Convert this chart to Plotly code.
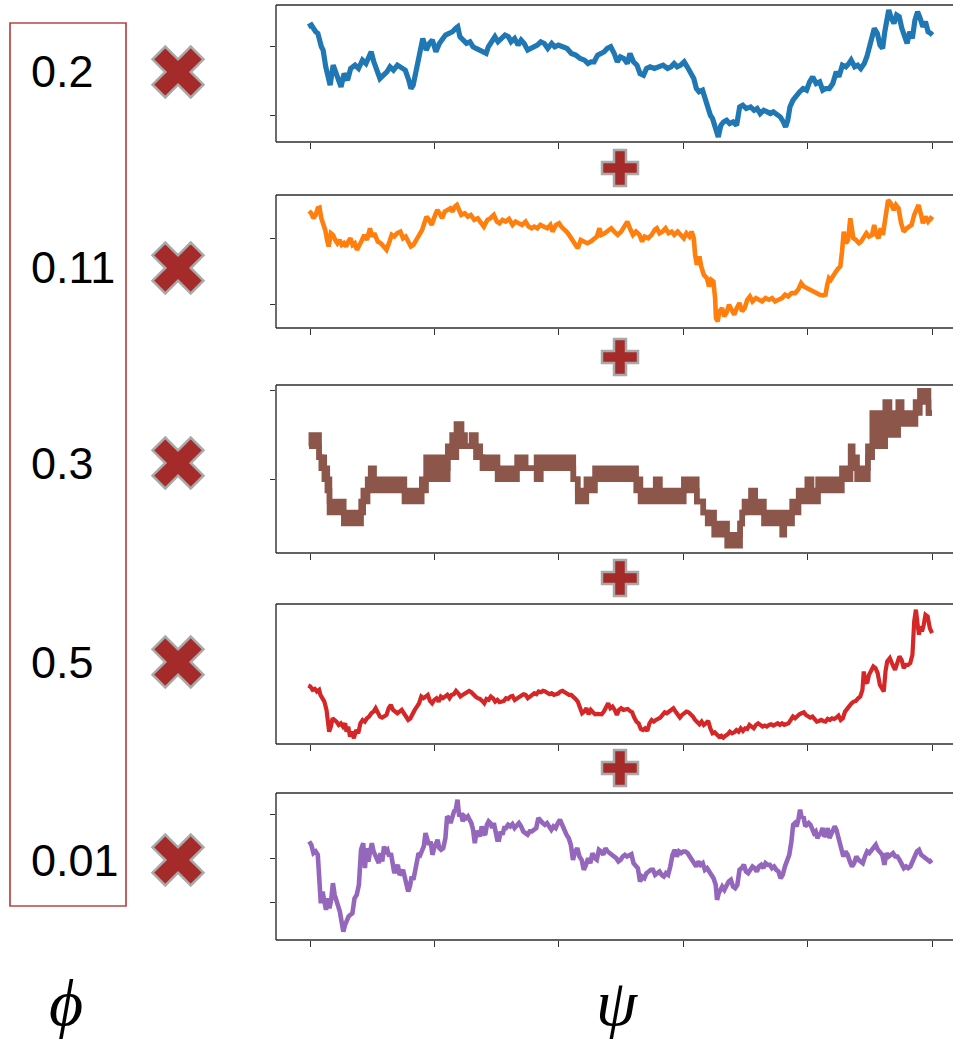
import plotly.graph_objects as go

W, H = 953, 1039

# ---------------------------------------------------------------- data
PHI_LABELS = ["0.2", "0.11", "0.3", "0.5", "0.01"]

# (step, value) samples of each psi series
BLUE = [(88,345),(95,350),(105,330),(110,325),(118,285),(122,275),(128,225),(135,185),(138,170),(145,230),
        (150,210),(158,190),(163,165),(170,205),(178,185),(185,220),(195,230),(203,220),(212,245),(220,235),
        (228,260),(232,270),(238,240),(245,215),(252,190),(260,200),(268,210),(275,225),(283,215),(292,230),
        (300,225),(310,215),(318,185),(323,160),(328,170),(333,205),(340,240),(345,295),(350,310),(358,275),
        (365,295),(372,305),(380,270),(388,295),(395,305),(402,320),(410,325),(418,330),(425,340),(430,345),
        (435,315),(442,305),(450,295),(458,300),(465,285),(472,280),(480,275),(488,270),(495,265),(500,285),
        (508,305),(515,315),(522,300),(530,310),(538,320),(546,315),(552,300),(560,310),(568,290),(575,305),
        (582,295),(590,275),(598,280),(605,285),(612,290),(620,300),(628,295),(636,280),(645,295),(652,285),
        (660,290),(670,285),(680,280),(690,265),(700,260),(710,250),(720,245),(728,235),(735,240),(742,240),
        (750,260),(758,265),(765,270),(772,280),(780,285),(788,265),(795,240),(802,255),(810,250),(818,235),
        (824,265),(832,240),(840,230),(847,205),(855,200),(862,220),(870,225),(880,220),(890,225),(900,230),
        (910,220),(918,225),(925,235),(932,225),(940,230),(948,240),(955,225),(962,210),(970,190),(976,160),
        (982,150),(990,155),(996,125),(1003,105),(1008,80),(1013,70),(1018,50),(1022,25),(1026,15),(1032,50),
        (1038,60),(1045,65),(1052,55),(1060,60),(1068,50),(1075,105),(1082,110),(1090,100),(1100,105),(1108,95),
        (1115,100),(1122,85),(1130,95),(1138,90),(1145,85),(1152,90),(1160,80),(1168,75),(1175,60),(1180,45),
        (1185,65),(1190,105),(1197,125),(1205,140),(1212,150),(1220,160),(1228,155),(1235,180),(1242,195),(1250,175),
        (1258,180),(1265,155),(1272,160),(1280,160),(1288,175),(1296,210),(1302,195),(1310,230),(1318,225),(1325,235),
        (1330,245),(1338,225),(1345,230),(1352,220),(1360,235),(1366,255),(1372,295),(1378,315),(1383,340),(1390,325),
        (1396,290),(1402,280),(1407,330),(1412,360),(1416,395),(1422,370),(1428,355),(1434,380),(1440,375),(1446,340),
        (1452,315),(1458,295),(1464,330),(1470,310),(1476,365),(1482,390),(1488,370),(1494,345),(1500,360),(1506,330),
        (1512,325),(1516,320)]

ORANGE = [(80,352),(85,345),(90,330),(95,340),(100,360),(104,362),(108,330),(112,315),(117,295),(122,260),
          (125,245),(130,285),(135,280),(140,265),(145,255),(150,265),(155,250),(160,255),(165,245),(170,260),
          (175,270),(180,250),(185,255),(190,235),(195,245),(200,260),(207,280),(213,265),(220,300),(225,275),
          (230,285),(238,260),(245,255),(252,245),(258,235),(265,260),(270,280),(276,275),(282,285),(290,290),
          (296,270),(302,275),(308,260),(314,245),(320,250),(326,265),(332,280),(340,295),(345,315),(350,335),
          (356,325),(362,310),(370,340),(375,355),(380,345),(386,330),(392,350),(398,355),(405,360),(410,350),
          (415,365),(420,370),(425,355),(430,340),(438,345),(445,335),(452,340),(460,325),(468,330),(475,320),
          (482,305),(490,325),(497,330),(505,340),(512,320),(518,315),(525,325),(532,320),(540,328),(548,310),
          (555,320),(562,315),(570,310),(578,320),(585,305),(592,300),(598,305),(605,300),(612,310),(620,305),
          (628,300),(635,310),(640,290),(648,310),(655,315),(660,305),(665,300),(672,290),(678,280),(685,265),
          (692,255),(698,240),(705,265),(712,260),(720,255),(728,260),(735,270),(742,275),(748,300),(752,280),
          (760,285),(768,295),(775,300),(782,290),(790,280),(798,290),(805,305),(812,320),(818,300),(825,280),
          (832,290),(840,280),(846,260),(852,275),(860,270),(868,280),(875,295),(880,300),(886,285),(893,290),
          (900,300),(907,285),(914,290),(920,280),(928,290),(935,280),(942,270),(948,285),(955,275),(960,290),
          (965,270),(968,220),(972,190),(978,215),(982,185),(988,160),(995,150),(1000,125),(1005,145),(1010,140),
          (1014,90),(1016,30),(1020,20),(1024,50),(1030,60),(1035,35),(1040,45),(1046,70),(1052,55),(1058,40),
          (1064,60),(1070,75),(1076,50),(1082,60),(1088,85),(1094,95),(1100,80),(1108,90),(1115,85),(1122,80),
          (1130,90),(1138,85),(1145,90),(1152,80),(1160,85),(1168,90),(1175,100),(1182,95),(1190,105),(1198,105),
          (1205,115),(1212,135),(1218,125),(1225,120),(1232,115),(1240,110),(1248,105),(1255,100),(1262,98),(1268,100),
          (1272,130),(1276,150),(1280,145),(1286,160),(1292,170),(1298,180),(1302,185),(1306,230),(1310,290),(1315,255),
          (1320,265),(1325,330),(1328,300),(1332,270),(1338,265),(1345,255),(1350,260),(1356,270),(1362,285),(1368,275),
          (1375,280),(1380,310),(1385,280),(1390,270),(1395,300),(1400,280),(1404,320),(1408,370),(1412,385),(1418,375),
          (1425,355),(1430,370),(1436,360),(1442,315),(1448,290),(1455,300),(1460,305),(1466,310),(1472,340),(1478,355),
          (1482,370),(1488,340),(1492,315),(1498,335),(1504,320),(1510,330),(1515,325)]

# brown series is quantised: runs of (start step, upper level, lower level)
BROWN_RUNS = [(80,9,9),(85,10,9),(103,8,8),(108,8,7),(115,7,6),(122,6,5),(127,4,3),(132,4,3),(145,4,3),(160,3,2),
              (200,4,3),(205,5,4),(215,6,5),(222,7,5),(230,6,5),(240,6,5),(300,5,4),(340,6,5),(350,8,6),(370,7,6),
              (376,8,6),(390,7,6),(400,9,8),(410,10,8),(420,11,9),(432,10,9),(440,9,9),(455,10,9),(465,9,8),(475,8,8),
              (480,8,7),(515,7,6),(560,8,7),(580,7,7),(605,8,6),(615,8,7),(690,6,6),(700,5,4),(720,6,5),(740,7,6),
              (835,6,5),(845,5,4),(880,6,5),(890,5,4),(945,6,5),(975,4,4),(990,3,3),(1000,3,2),(1015,2,1),(1045,1,0),
              (1075,2,2),(1080,3,3),(1085,4,3),(1100,5,4),(1110,4,3),(1130,3,2),(1172,3,1),(1177,3,2),(1195,4,3),(1210,5,4),
              (1230,6,5),(1240,5,4),(1255,6,5),(1265,6,5),(1310,7,6),(1330,9,7),(1335,8,7),(1345,7,6),(1360,7,6),(1370,9,8),
              (1380,12,9),(1398,10,9),(1410,13,10),(1420,12,11),(1430,12,10),(1440,13,12),(1448,12,11),(1480,13,12),(1490,14,13),(1510,12,12)]
BROWN_END = 1518

RED = [(80,175),(85,172),(90,162),(95,165),(100,157),(105,162),(108,147),(112,137),(117,127),(122,102),
       (125,67),(128,37),(132,52),(136,77),(140,72),(145,67),(150,57),(155,62),(160,52),(165,62),
       (168,37),(172,52),(176,22),(180,37),(185,17),(190,42),(195,32),(200,62),(205,72),(210,67),
       (215,77),(220,82),(225,92),(230,97),(235,107),(240,92),(245,82),(250,79),(255,82),(260,87),
       (265,107),(270,117),(275,102),(280,97),(285,92),(290,97),(295,102),(300,92),(305,82),(310,72),
       (315,77),(320,92),(325,102),(330,112),(335,122),(340,142),(345,137),(350,142),(355,147),(360,129),
       (365,122),(370,132),(375,137),(380,127),(385,142),(390,137),(395,144),(400,147),(405,137),(410,147),
       (415,149),(420,159),(425,152),(430,142),(435,147),(440,152),(445,157),(450,159),(455,155),(460,147),
       (465,142),(470,137),(475,135),(480,129),(485,122),(490,135),(495,132),(500,142),(505,137),(510,127),
       (515,132),(520,125),(525,127),(530,129),(535,137),(540,135),(545,142),(550,144),(555,132),(560,137),
       (565,142),(570,147),(575,149),(580,147),(585,137),(590,142),(595,147),(600,152),(605,149),(610,157),
       (615,155),(620,159),(625,157),(630,152),(635,149),(640,152),(645,147),(650,149),(655,151),(660,157),
       (665,159),(670,155),(675,149),(680,147),(685,147),(690,142),(695,135),(700,127),(705,112),(710,92),
       (715,97),(720,107),(725,89),(730,102),(735,95),(740,89),(745,90),(750,89),(755,89),(760,97),
       (765,112),(770,122),(775,107),(780,112),(785,102),(790,87),(795,102),(800,107),(805,102),(810,102),
       (815,105),(820,99),(825,95),(830,79),(835,67),(840,62),(845,45),(850,42),(855,47),(860,39),
       (865,62),(870,72),(875,67),(880,72),(885,75),(890,79),(895,87),(900,95),(905,92),(910,97),
       (915,102),(920,107),(925,97),(930,87),(935,79),(940,87),(945,92),(950,97),(955,95),(960,89),
       (965,82),(970,72),(975,65),(980,59),(985,67),(990,57),(995,62),(1000,69),(1005,47),(1010,32),
       (1015,35),(1020,27),(1025,22),(1030,25),(1035,19),(1040,25),(1045,29),(1050,37),(1055,32),(1060,35),
       (1065,42),(1070,37),(1075,47),(1080,39),(1085,47),(1090,45),(1095,57),(1100,52),(1105,47),(1110,57),
       (1115,62),(1120,57),(1125,52),(1130,55),(1135,52),(1140,57),(1145,59),(1150,55),(1155,59),(1160,62),
       (1165,57),(1170,62),(1175,57),(1180,59),(1185,62),(1190,72),(1195,82),(1200,77),(1205,85),(1210,89),
       (1215,92),(1220,95),(1225,87),(1230,82),(1235,79),(1240,82),(1245,72),(1250,67),(1255,69),(1260,72),
       (1265,69),(1270,67),(1275,75),(1280,72),(1285,77),(1290,75),(1295,79),(1300,85),(1305,72),(1310,77),
       (1315,97),(1320,107),(1325,117),(1330,122),(1335,127),(1340,129),(1345,137),(1350,142),(1355,162),(1358,217),
       (1362,187),(1366,182),(1370,207),(1375,222),(1380,232),(1385,227),(1390,212),(1395,177),(1400,162),(1404,157),
       (1408,217),(1412,247),(1418,257),(1422,242),(1426,232),(1430,222),(1435,247),(1440,262),(1445,252),(1450,227),
       (1455,237),(1460,237),(1465,242),(1470,267),(1474,367),(1478,402),(1482,357),(1485,327),(1488,352),(1492,337),
       (1496,357),(1500,387),(1505,382),(1510,347),(1515,332)]

PURPLE = [(85,295),(90,285),(95,260),(100,265),(105,255),(108,165),(112,110),(116,145),(120,115),(124,90),
          (128,125),(132,95),(136,120),(140,170),(144,135),(148,120),(152,110),(156,85),(160,55),(164,25),
          (168,45),(172,60),(176,70),(180,75),(185,80),(190,125),(195,135),(200,165),(205,270),(210,290),
          (214,215),(218,275),(222,235),(226,265),(230,290),(234,265),(238,250),(242,235),(246,230),(250,260),
          (254,235),(258,280),(262,265),(266,270),(270,250),(274,260),(278,220),(282,200),(286,215),(290,225),
          (294,195),(298,200),(302,210),(306,185),(310,160),(314,145),(318,160),(322,190),(326,180),(330,205),
          (334,225),(338,260),(342,255),(346,265),(350,280),(354,320),(358,305),(362,285),(366,295),(370,255),
          (374,275),(378,290),(382,300),(386,275),(390,270),(395,275),(400,305),(404,370),(408,365),(412,350),
          (416,370),(420,385),(424,390),(428,420),(432,370),(436,380),(440,355),(444,370),(448,365),(452,370),
          (456,360),(460,350),(464,330),(468,290),(472,325),(476,320),(480,310),(484,340),(488,320),(492,315),
          (496,345),(500,355),(504,350),(508,335),(512,350),(516,320),(520,300),(524,300),(528,325),(532,315),
          (536,335),(540,335),(545,345),(550,340),(555,347),(560,335),(565,345),(570,350),(575,340),(580,325),
          (585,320),(590,315),(595,325),(600,325),(605,330),(610,335),(615,365),(620,355),(625,350),(630,345),
          (635,350),(640,340),(645,330),(650,340),(655,335),(660,350),(665,360),(670,345),(675,325),(680,315),
          (685,305),(690,285),(695,240),(700,265),(705,275),(710,250),(715,240),(720,210),(725,225),(730,245),
          (735,230),(740,260),(745,245),(750,240),(755,270),(760,265),(765,255),(770,275),(775,265),(780,260),
          (785,255),(790,250),(795,245),(800,235),(805,240),(810,250),(815,255),(820,250),(825,255),(830,257),
          (835,230),(840,220),(845,215),(850,175),(855,190),(860,185),(865,200),(870,205),(875,210),(880,210),
          (885,195),(890,200),(895,205),(900,195),(905,190),(910,200),(915,195),(920,220),(925,255),(930,270),
          (935,250),(940,265),(945,260),(950,265),(955,265),(960,260),(965,250),(970,245),(975,235),(980,220),
          (985,235),(990,225),(995,230),(1000,210),(1005,215),(1010,205),(1015,200),(1020,185),(1025,165),(1028,120),
          (1032,140),(1036,155),(1040,160),(1045,150),(1050,165),(1055,175),(1060,180),(1065,160),(1070,155),(1075,165),
          (1080,210),(1085,215),(1090,225),(1095,205),(1100,200),(1105,210),(1110,220),(1115,215),(1120,205),(1125,220),
          (1130,225),(1135,215),(1140,230),(1145,225),(1150,225),(1155,215),(1160,220),(1165,210),(1170,205),(1175,185),
          (1180,195),(1185,220),(1190,240),(1195,255),(1200,295),(1204,345),(1208,350),(1212,340),(1216,360),(1220,390),
          (1224,365),(1228,370),(1232,340),(1236,345),(1240,350),(1244,345),(1248,330),(1252,320),(1256,325),(1260,305),
          (1264,315),(1268,320),(1272,335),(1276,310),(1280,315),(1284,335),(1288,305),(1292,320),(1296,330),(1300,340),
          (1304,330),(1308,310),(1312,285),(1316,260),(1320,250),(1325,265),(1330,255),(1335,235),(1340,220),(1345,230),
          (1350,250),(1355,240),(1360,235),(1365,230),(1370,250),(1375,265),(1380,260),(1385,270),(1390,280),(1395,285),
          (1400,270),(1405,260),(1410,255),(1415,225),(1420,260),(1425,250),(1430,255),(1435,260),(1440,250),(1445,250),
          (1450,240),(1455,225),(1460,215),(1465,220),(1470,215),(1475,220),(1480,240),(1485,250),(1490,265),(1495,270),
          (1500,255),(1505,250),(1510,245),(1515,240),(1520,235),(1525,240)]

# ---------------------------------------------------------------- layout
FRAME_LEFT, TICK_FIRST, TICK_LAST = 276, 310, 932   # px
ROW_Y = [72, 268, 463, 662, 860]                     # px, centre of each row
PLUS_Y = [168, 357, 578, 768]                        # px
OP_COLOR = "#a52a2a"
OP_EDGE = "#a9a9a9"
FRAME = dict(color="#2e2e2e", width=1.4)

PANELS = [
    dict(top=5,   bottom=142, steps=(92, 1515),  yr=(0, 410),   yt=[78, 285]),
    dict(top=195, bottom=328, steps=(82, 1513),  yr=(0, 400),   yt=[70, 270]),
    dict(top=385, bottom=553, steps=(82, 1518),  yr=(-0.66, 14.53), yt=[6, 14]),
    dict(top=604, bottom=744, steps=(84, 1515),  yr=(0, 419),   yt=[]),
    dict(top=793, bottom=940, steps=(87, 1525),  yr=(0, 440),   yt=[113, 245, 377]),
]

fig = go.Figure()
shapes, annotations = [], []

for i, p in enumerate(PANELS):
    n = "" if i == 0 else str(i + 1)
    s0, s1 = p["steps"]
    per_px = (s1 - s0) / (TICK_LAST - TICK_FIRST)
    xr = [s0 - (TICK_FIRST - FRAME_LEFT) * per_px, s1 + (W - TICK_LAST) * per_px]
    y0, y1 = 1 - p["bottom"] / H, 1 - p["top"] / H
    fig.layout[f"xaxis{n}"] = dict(
        domain=[FRAME_LEFT / W, 1], range=xr, anchor=f"y{n}",
        tickvals=[s0 + k * (s1 - s0) / 5 for k in range(6)],
        ticks="outside", ticklen=6, tickwidth=1.2, tickcolor="#333",
        showticklabels=False, showgrid=False, zeroline=False, showline=False)
    fig.layout[f"yaxis{n}"] = dict(
        domain=[y0, y1], range=list(p["yr"]), anchor=f"x{n}",
        tickvals=p["yt"], ticks="outside" if p["yt"] else "", ticklen=5,
        tickwidth=1.2, tickcolor="#333",
        showticklabels=False, showgrid=False, zeroline=False, showline=False)
    # frame: left, top and bottom edges; it runs on past the right page edge
    xl = FRAME_LEFT / W
    for seg in ((xl, y0, 1.0, y0), (xl, y1, 1.0, y1), (xl, y0, xl, y1)):
        shapes.append(dict(type="line", xref="paper", yref="paper",
                           x0=seg[0], y0=seg[1], x1=seg[2], y1=seg[3],
                           line=FRAME, layer="above"))


def add_series(pts, color, width, idx):
    n = "" if idx == 0 else str(idx + 1)
    fig.add_trace(go.Scatter(x=[a for a, _ in pts], y=[b for _, b in pts],
                             mode="lines", line=dict(color=color, width=width),
                             xaxis=f"x{n}", yaxis=f"y{n}", hoverinfo="skip"))


add_series(BLUE, "#1f77b4", 5.2, 0)
add_series(ORANGE, "#ff7f0e", 4.6, 1)

# brown: quantised walk, fast switching between two levels drawn as a band
bx = [r[0] for r in BROWN_RUNS] + [BROWN_END]
bu = [r[1] for r in BROWN_RUNS] + [BROWN_RUNS[-1][1]]
bl = [r[2] for r in BROWN_RUNS] + [BROWN_RUNS[-1][2]]
fig.add_trace(go.Scatter(x=bx, y=bl, mode="lines", line=dict(color="#8c564b", width=5.5, shape="hv"),
                         xaxis="x3", yaxis="y3", hoverinfo="skip"))
fig.add_trace(go.Scatter(x=bx, y=bu, mode="lines", line=dict(color="#8c564b", width=5.5, shape="hv"),
                         fill="tonexty", fillcolor="#8c564b",
                         xaxis="x3", yaxis="y3", hoverinfo="skip"))

add_series(RED, "#d62728", 4.2, 3)
add_series(PURPLE, "#9467bd", 4.6, 4)

# full-page overlay for the operator glyphs
fig.layout["xaxis6"] = dict(domain=[0, 1], range=[0, W], visible=False, anchor="y6")
fig.layout["yaxis6"] = dict(domain=[0, 1], range=[H, 0], visible=False, anchor="x6")
fig.add_trace(go.Scatter(x=[178] * len(ROW_Y), y=ROW_Y, mode="markers",
                         marker=dict(symbol="x", size=45, color=OP_COLOR,
                                     line=dict(color=OP_EDGE, width=2.5)),
                         xaxis="x6", yaxis="y6", hoverinfo="skip", cliponaxis=False))
fig.add_trace(go.Scatter(x=[620] * len(PLUS_Y), y=PLUS_Y, mode="markers",
                         marker=dict(symbol="cross", size=30, color=OP_COLOR,
                                     line=dict(color=OP_EDGE, width=2.5)),
                         xaxis="x6", yaxis="y6", hoverinfo="skip", cliponaxis=False))

# phi column
shapes.append(dict(type="rect", xref="paper", yref="paper",
                   x0=10 / W, x1=126 / W, y0=1 - 906 / H, y1=1 - 23 / H,
                   line=dict(color="#b84545", width=1.7)))
for lab, yc in zip(PHI_LABELS, ROW_Y):
    annotations.append(dict(text=lab, xref="paper", yref="paper", x=29 / W, y=1 - yc / H,
                            xanchor="left", yanchor="middle", showarrow=False,
                            font=dict(family="Liberation Sans", size=45, color="black")))

annotations.append(dict(text="<i>ϕ</i>", xref="paper", yref="paper", x=66 / W, y=1 - 1002 / H,
                        xanchor="center", yanchor="middle", showarrow=False,
                        font=dict(family="Liberation Serif", size=66, color="black")))
annotations.append(dict(text="<i>ψ</i>", xref="paper", yref="paper", x=617 / W, y=1 - 1002 / H,
                        xanchor="center", yanchor="middle", showarrow=False,
                        font=dict(family="Liberation Serif", size=66, color="black")))

fig.update_layout(width=W, height=H, margin=dict(l=0, r=0, t=0, b=0),
                  paper_bgcolor="white", plot_bgcolor="rgba(0,0,0,0)",
                  showlegend=False, shapes=shapes, annotations=annotations)

fig.write_html("out.html")
